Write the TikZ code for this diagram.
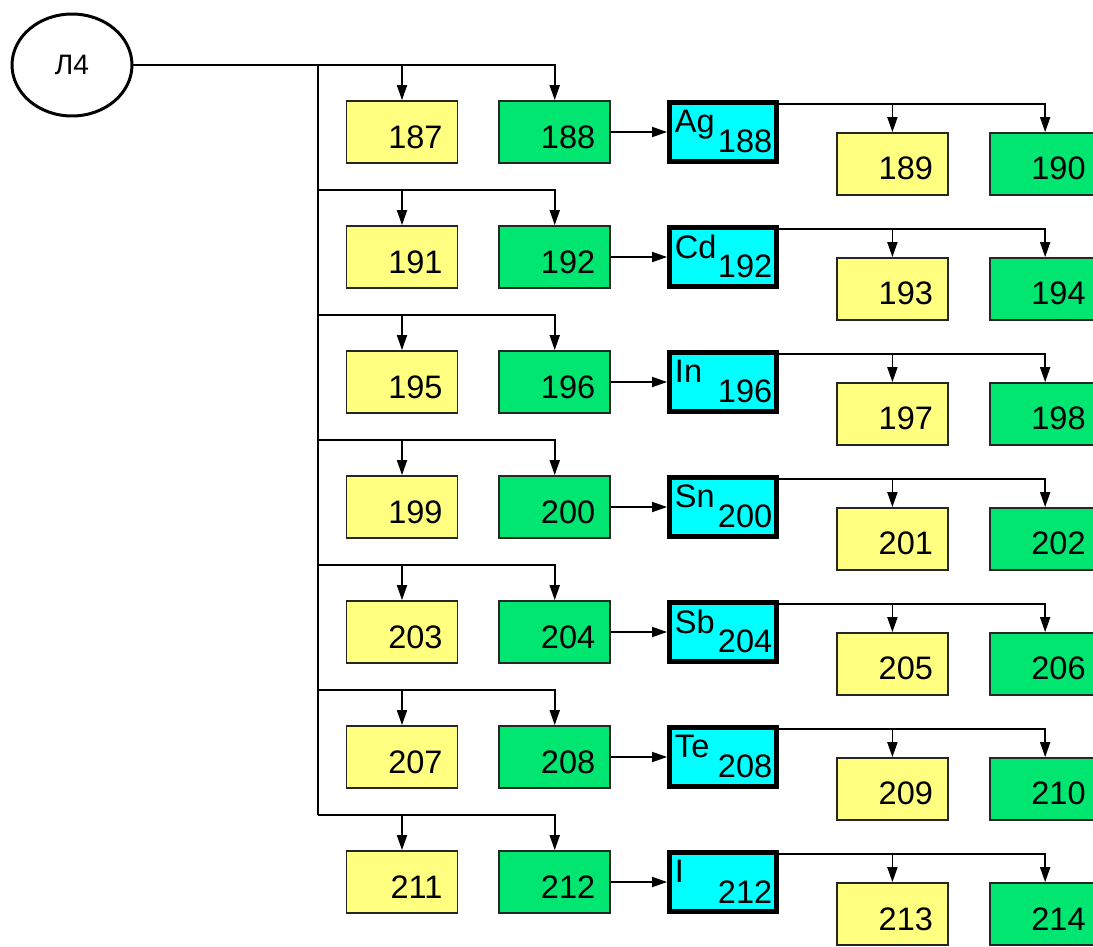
\documentclass[tikz,border=0pt]{standalone}
\usepackage{fontspec}
\setmainfont{Liberation Sans}
\usepackage{xcolor}
\usetikzlibrary{positioning,arrows.meta,shapes.geometric}

\definecolor{boxyellow}{RGB}{255,255,128}
\definecolor{boxgreen}{RGB}{0,230,112}
\definecolor{boxcyan}{RGB}{0,255,255}

\begin{document}
\begin{tikzpicture}[x=0.02cm, y=-0.02cm, line width=1pt,
		>={Triangle[length=0.3cm, width=0.2cm]},
		numbox/.style={draw=black!85, rectangle, minimum width=2.22cm, minimum height=1.24cm,
			text width=1.62cm, inner xsep=0.3cm, inner ysep=0pt, align=right,
			text height=0.64cm, text depth=0pt, font=\fontsize{18.5}{22}\selectfont},
		yellowbox/.style={numbox, fill=boxyellow},
		greenbox/.style={numbox, fill=boxgreen},
		elbox/.style={draw=black, line width=0.1cm, fill=boxcyan, rectangle,
			minimum width=2.14cm, minimum height=1.18cm, inner sep=0pt},
		eltext/.style={font=\fontsize{18.5}{20}\selectfont},
		startnode/.style={draw, ellipse, line width=1.7pt, minimum width=2.4cm,
			minimum height=2.04cm, font=\fontsize{16}{18}\selectfont}]
	\useasboundingbox (0,0) rectangle (1093,947);
	
	\node[startnode] (l4) at (72,65) {Л4};
	
	\foreach \el [count=\i from 0] in {Ag,Cd,In,Sn,Sb,Te,I} {
		\pgfmathtruncatemacro\na{187+4*\i}
		\pgfmathtruncatemacro\nb{188+4*\i}
		\pgfmathtruncatemacro\nc{189+4*\i}
		\pgfmathtruncatemacro\nd{190+4*\i}
		\coordinate (b\i) at (318,65+125*\i);
		\node[yellowbox] (a\i) at (402,132+125*\i) {\na};
		\node[greenbox, right=0.8cm of a\i] (g\i) {\nb};
		\node[elbox, right=1.12cm of g\i,
			label={[eltext, inner xsep=0.14cm, inner ysep=0.18cm, anchor=north west]north west:\el},
			label={[eltext, inner xsep=0.12cm, inner ysep=0.2cm, anchor=south east]south east:\nb}] (c\i) {};
		\node[yellowbox, right=1.14cm of c\i, yshift=-0.64cm] (d\i) {\nc};
		\node[greenbox, right=0.8cm of d\i] (e\i) {\nd};
		\coordinate (t\i) at ([yshift=-0.08cm]c\i.north east);
		
		\draw[->] (b\i) -| (a\i.north);
		\draw[->] (b\i) -| (g\i.north);
		\draw[->] (g\i) -- (c\i);
		\draw[->] (t\i) -| (d\i.north);
		\draw[->] (t\i) -| (e\i.north);
	}
	
	\draw (l4.east) -- (b0);
	\draw (b0) -- (b6);
\end{tikzpicture}
\end{document}
